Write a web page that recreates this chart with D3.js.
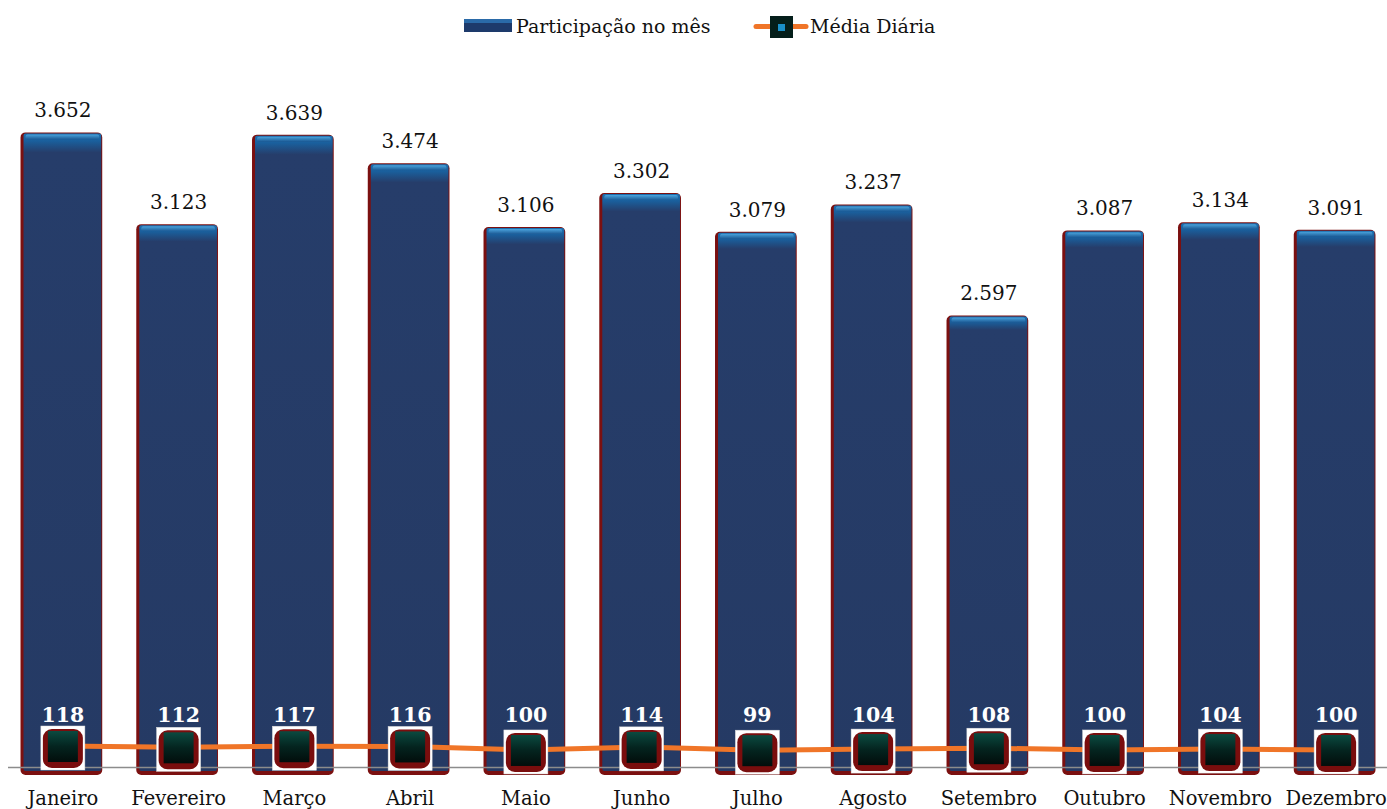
<!DOCTYPE html>
<html><head><meta charset="utf-8">
<script src="https://cdn.jsdelivr.net/npm/d3@7"></script>
<style>body{margin:0;background:#fff}svg{display:block}</style>
</head><body><svg id="c" width="1387" height="809"></svg>
<script>
const months = ["Janeiro","Fevereiro","Março","Abril","Maio","Junho","Julho","Agosto","Setembro","Outubro","Novembro","Dezembro"];
const participacao = [3652,3123,3639,3474,3106,3302,3079,3237,2597,3087,3134,3091];
const mediaDiaria = [118,112,117,116,100,114,99,104,108,100,104,100];
const seriesNames = ["Participação no mês","Média Diária"];

const svg = d3.select("#c");
const font = "'DejaVu Serif', 'Liberation Serif', serif";
const defs = svg.append("defs");
const bg = defs.append("linearGradient").attr("id","barg").attr("x1",0).attr("x2",0).attr("y1",0).attr("y2",1);
bg.append("stop").attr("offset","0").attr("stop-color","#1b6fb0");
bg.append("stop").attr("offset","0.012").attr("stop-color","#1a5f9c");
bg.append("stop").attr("offset","0.03").attr("stop-color","#263d6a");
bg.append("stop").attr("offset","1").attr("stop-color","#253a64");
const hg = defs.append("linearGradient").attr("id","hig").attr("x1",0).attr("x2",0).attr("y1",0).attr("y2",1);
hg.append("stop").attr("offset","0").attr("stop-color","#4aa3dc");
hg.append("stop").attr("offset","1").attr("stop-color","#1c5a95");
const mg = defs.append("linearGradient").attr("id","mkg").attr("x1",0).attr("x2",0).attr("y1",0).attr("y2",1);
mg.append("stop").attr("offset","0").attr("stop-color","#0b4a40");
mg.append("stop").attr("offset","0.5").attr("stop-color","#04241f");
mg.append("stop").attr("offset","1").attr("stop-color","#020d0b");

const x = d3.scaleBand().domain(months).range([5,1394]).paddingInner(0.32).paddingOuter(0.16);
const y = d3.scaleLinear().domain([0,4000]).range([767,73]);
const y2 = d3.scaleLinear().domain([0,118]).range([772,746]);
const bw = x.bandwidth();

// bar shadows (dark red)
svg.append("g").selectAll("rect").data(participacao).join("rect")
  .attr("x",(d,i)=>x(months[i])-3).attr("y",d=>y(d)-1)
  .attr("width",bw+3).attr("height",d=>767-y(d)+9).attr("rx",5)
  .attr("fill","#7b1010");
// bars
svg.append("g").selectAll("rect").data(participacao).join("rect")
  .attr("x",(d,i)=>x(months[i])).attr("y",d=>y(d))
  .attr("width",bw-1).attr("height",d=>767-y(d)+4).attr("rx",2)
  .attr("fill","url(#barg)");
svg.append("g").selectAll("rect").data(participacao).join("rect")
  .attr("x",(d,i)=>x(months[i])+2).attr("y",d=>y(d)+1)
  .attr("width",bw-5).attr("height",5).attr("rx",2)
  .attr("fill","url(#hig)");

// axis
svg.append("line").attr("x1",8).attr("x2",1387).attr("y1",767.5).attr("y2",767.5)
  .attr("stroke","#8c8c8c").attr("stroke-width",1.5);

// bar value labels
svg.append("g").selectAll("text").data(participacao).join("text")
  .attr("x",(d,i)=>x(months[i])+bw/2).attr("y",d=>y(d)-16)
  .attr("text-anchor","middle").attr("font-family",font).attr("font-size",20).attr("fill","#111")
  .text(d=>d3.format(",")(d).replace(",","."));

// month labels
svg.append("g").selectAll("text").data(months).join("text")
  .attr("x",d=>x(d)+bw/2).attr("y",805)
  .attr("text-anchor","middle").attr("font-family",font).attr("font-size",19.5).attr("fill","#111")
  .text(d=>d);

// line
const line = d3.line().x((d,i)=>x(months[i])+bw/2).y(d=>y2(d));
svg.append("path").datum(mediaDiaria).attr("d",line).attr("fill","none")
  .attr("stroke","#f07528").attr("stroke-width",5);

// markers
const mk = svg.append("g").selectAll("g").data(mediaDiaria).join("g")
  .attr("transform",(d,i)=>`translate(${x(months[i])+bw/2},${y2(d)+2})`);
mk.append("rect").attr("x",-22).attr("y",-22).attr("width",44).attr("height",44).attr("fill","#fff").attr("stroke","#ddd").attr("stroke-width",0.5);
mk.append("rect").attr("x",-20).attr("y",-19).attr("width",40).attr("height",39).attr("rx",9).attr("fill","#7a0d0d");
mk.append("rect").attr("x",-15).attr("y",-17).attr("width",30).attr("height",31).attr("fill","url(#mkg)");

// line value labels
svg.append("g").selectAll("text").data(mediaDiaria).join("text")
  .attr("x",(d,i)=>x(months[i])+bw/2).attr("y",722)
  .attr("text-anchor","middle").attr("font-family",font).attr("font-weight","bold")
  .attr("font-size",20.5).attr("fill","#fff").text(d=>d);

// legend
const lg = svg.append("g").attr("font-family",font).attr("font-size",19).attr("fill","#111");
lg.append("rect").attr("x",464).attr("y",19).attr("width",48).attr("height",13).attr("fill","#1d3a6b");
lg.append("rect").attr("x",464).attr("y",19).attr("width",48).attr("height",4).attr("fill","#2a6aa8");
lg.append("text").attr("x",516).attr("y",33).text(seriesNames[0]);
lg.append("line").attr("x1",756).attr("x2",806).attr("y1",26.5).attr("y2",26.5).attr("stroke","#f07528").attr("stroke-width",5).attr("stroke-linecap","round");
lg.append("rect").attr("x",770).attr("y",16).attr("width",23).attr("height",22).attr("fill","#041e1a");
lg.append("rect").attr("x",778).attr("y",24).attr("width",7).attr("height",7).attr("fill","#1a8fc8");
lg.append("text").attr("x",810).attr("y",33).text(seriesNames[1]);
</script></body></html>
